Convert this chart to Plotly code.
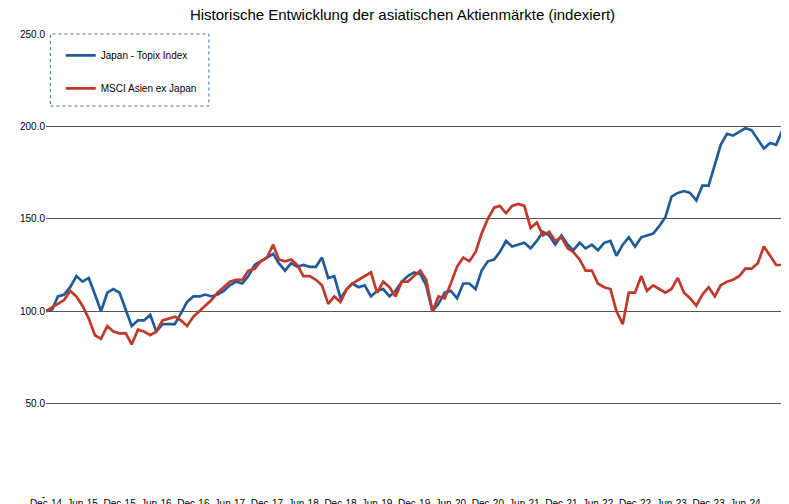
import pandas as pd
import plotly.graph_objects as go

dates = pd.date_range("2014-12-31", "2024-12-31", freq="ME")

topix = [100,
 101,108,109,113,119,116,118,109,100,110,112,110,
 101,92,95,95,98,89,93,93,93,99,105,108,
 108,109,108,109,111,114,116,115,119,125,127,129,
 131,126,122,126,124,125,124,124,129,118,119,107,
 112,115,113,114,108,111,112,108,111,116,119,121,
 120,114,100,104,110,111,107,115,115,112,122,127,
 128,132,138,135,136,137,134,138,143,141,136,141,
 136,133,137,134,136,133,137,138,130,136,140,135,
 140,141,142,146,151,162,164,165,164,160,168,168,
 180,190,196,195,197,199,198,193,188,191,190,198]

msci = [100,
 102,104,106,111,108,103,96,87,85,92,89,88,
 88,82,90,89,87,89,95,96,97,95,92,97,
 100,103,106,110,113,116,117,117,122,123,127,129,
 136,128,127,128,125,119,119,117,114,104,108,105,
 112,115,117,119,121,110,116,113,108,116,116,119,
 122,117,100,108,107,115,124,129,127,132,142,150,
 156,157,153,157,158,157,145,148,141,143,138,140,
 134,132,128,122,122,115,113,112,100,93,110,110,
 119,111,114,112,110,112,118,110,107,103,109,113,
 108,114,116,117,119,123,123,126,135,130,125,125]

tick_dates = dates[::6]
tick_text = [d.strftime("%b-%y") for d in tick_dates]
y_ticks = [0, 50, 100, 150, 200, 250]
y_text = ["-", "50.0", "100.0", "150.0", "200.0", "250.0"]

font = "Liberation Sans Narrow, Arial Narrow, Liberation Sans, sans-serif"
fig = go.Figure()
fig.add_trace(go.Scatter(x=dates, y=topix, mode="lines", name="Japan - Topix Index",
                         line=dict(color="#1f5c99", width=2.7), legendgroup="a"))
fig.add_trace(go.Scatter(x=dates, y=msci, mode="lines", name="MSCI Asien ex Japan",
                         line=dict(color="#c0392b", width=2.7), legendgroup="b"))
fig.update_layout(
    width=789, height=504, paper_bgcolor="white", plot_bgcolor="white",
    margin=dict(l=38, r=14, t=26, b=16),
    font=dict(family=font, size=10, color="black"),
    title=dict(text="Historische Entwicklung der asiatischen Aktienmärkte (indexiert)",
               x=0.5, xanchor="center", y=0.997, yanchor="top", font=dict(size=15)),
    legend=dict(x=0.02, y=0.985, xanchor="left", yanchor="top", tracegroupgap=14,
                bgcolor="rgba(0,0,0,0)", font=dict(size=10)),
    showlegend=True,
)
fig.update_xaxes(range=[dates[0], dates[-1] + pd.Timedelta(days=3)], tickvals=tick_dates,
                 ticktext=tick_text, showgrid=False, showline=False, ticks="",
                 tickfont=dict(size=10), automargin=False)
fig.update_yaxes(range=[0, 250], tickvals=y_ticks, ticktext=y_text, showgrid=True,
                 gridcolor="#555555", gridwidth=1, zeroline=False, ticks="",
                 tickfont=dict(size=10), automargin=False)
fig.add_shape(type="rect", xref="paper", yref="paper", x0=0.006, x1=0.221, y0=0.844, y1=1.0,
              line=dict(color="#2e75b6", width=1, dash="dot"))
fig.write_html("out.html")
